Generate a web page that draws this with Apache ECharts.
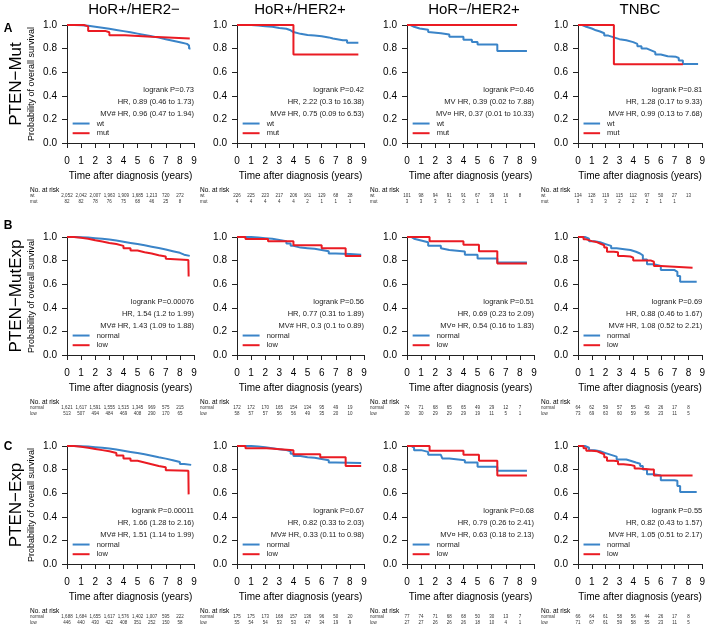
<!DOCTYPE html>
<html>
<head>
<meta charset="utf-8">
<script src="https://cdn.jsdelivr.net/npm/echarts@6/dist/echarts.min.js"></script>
<style>
  html, body { margin: 0; padding: 0; background: #fff; }
  #container { width: 708px; height: 625px; }
</style>
</head>
<body>
<div id="container"></div>
<script>
// column / row headings
var colTitles = ['HoR+/HER2\u2212', 'HoR+/HER2+', 'HoR\u2212/HER2+', 'TNBC'];
var rowLabels = ['PTEN\u2212Mut', 'PTEN\u2212MutExp', 'PTEN\u2212Exp'];
var rowLetters = ['A', 'B', 'C'];
var groupNames = [['wt', 'mut'], ['normal', 'low'], ['normal', 'low']];
var riskTimes = [0, 1, 2, 3, 4, 5, 6, 7, 8];

// Kaplan-Meier curves, [time in years, survival], one per column
var mutBlue = [
  [[0,1],[0.5,0.998],[1,0.993],[1.5,0.985],[2,0.977],[2.5,0.968],[3,0.958],[3.5,0.948],[4,0.938],[4.5,0.927],[5,0.916],[5.5,0.905],[6,0.893],[6.5,0.88],[7,0.867],[7.5,0.854],[8,0.84],[8.5,0.826],[8.65,0.8],[8.75,0.8]],
  [[0,1],[0.5,1],[1,0.995],[1.5,0.99],[2,0.985],[2.5,0.975],[3,0.968],[3.5,0.955],[3.8,0.94],[4,0.925],[4.5,0.915],[5,0.91],[5.5,0.905],[6,0.895],[6.5,0.885],[6.8,0.87],[7.5,0.87],[7.8,0.85],[8.6,0.85]],
  [[0,1],[0.25,0.985],[0.5,0.97],[0.9,0.96],[1.5,0.94],[1.6,0.93],[2.4,0.93],[2.5,0.92],[3,0.9],[4,0.875],[4.6,0.855],[5,0.835],[6.4,0.78],[8.5,0.78]],
  [[0,1],[0.3,0.985],[0.6,0.97],[1,0.955],[1.3,0.945],[1.6,0.93],[1.9,0.91],[2.2,0.895],[2.6,0.88],[3,0.87],[3.5,0.855],[4,0.84],[4.3,0.82],[4.6,0.8],[5,0.785],[5.3,0.77],[5.6,0.75],[6,0.735],[6.5,0.73],[7.1,0.72],[7.3,0.7],[7.6,0.67],[8.7,0.67]]
];
var mutRed = [
  [[0,1],[1.2,0.988],[1.5,0.95],[2.7,0.938],[3,0.913],[4.1,0.9],[6,0.886],[8.7,0.886]],
  [[0,1],[4,0.75],[8.6,0.75]],
  [[0,1],[7.8,1]],
  [[0,1],[2.6,0.667],[7.6,0.667]]
];
var mutExpBlue = [
  [[0,1],[0.5,0.998],[1,0.995],[1.5,0.99],[2,0.985],[2.5,0.978],[3,0.97],[3.5,0.96],[4,0.95],[4.5,0.94],[5,0.93],[5.5,0.918],[6,0.906],[6.5,0.894],[7,0.88],[7.5,0.866],[8,0.85],[8.3,0.84],[8.7,0.84]],
  [[0,1],[0.8,1],[1,0.995],[1.5,0.99],[2,0.985],[2.5,0.975],[3,0.965],[3.5,0.945],[3.8,0.925],[4,0.91],[4.5,0.905],[5,0.9],[5.5,0.89],[6,0.88],[6.5,0.86],[7,0.855],[8,0.85],[8.8,0.85]],
  [[0,1],[0.3,0.985],[0.5,0.97],[1,0.955],[1.5,0.925],[2.4,0.905],[2.5,0.89],[3,0.878],[4.1,0.85],[5,0.818],[6.4,0.783],[8.5,0.783]],
  [[0,1],[0.5,1],[0.6,0.985],[0.8,0.965],[1.2,0.955],[1.6,0.94],[2,0.925],[2.4,0.905],[2.8,0.895],[3.5,0.89],[3.8,0.875],[4.2,0.86],[4.5,0.845],[4.7,0.81],[5,0.77],[5.5,0.755],[6,0.72],[7,0.705],[7.2,0.67],[7.4,0.62],[8.6,0.62]]
];
var mutExpRed = [
  [[0,1],[0.5,0.993],[1,0.985],[1.5,0.972],[2,0.962],[2.5,0.95],[3,0.94],[3.5,0.925],[4,0.905],[4.5,0.885],[5,0.87],[5.5,0.86],[6,0.845],[6.5,0.835],[7,0.815],[7.1,0.805],[8.6,0.805],[8.62,0.665],[8.67,0.665]],
  [[0,1],[0.6,0.982],[2.2,0.965],[4,0.93],[6,0.905],[7.7,0.84],[8.8,0.84]],
  [[0,1],[1.6,0.965],[4,0.935],[5.1,0.88],[6.4,0.775],[8.5,0.775]],
  [[0,1],[0.4,0.98],[0.6,0.965],[1,0.955],[1.4,0.945],[1.6,0.93],[1.9,0.91],[2.1,0.875],[2.6,0.87],[2.9,0.84],[3.3,0.835],[3.8,0.825],[4,0.8],[5.3,0.79],[5.5,0.755],[6,0.74],[8.3,0.74]]
];
var expBlue = [
  [[0,1],[0.5,0.998],[1,0.995],[1.5,0.99],[2,0.985],[2.5,0.978],[3,0.97],[3.5,0.96],[4,0.95],[4.5,0.94],[5,0.93],[5.5,0.918],[6,0.905],[6.5,0.893],[7,0.88],[7.5,0.865],[8,0.848],[8.3,0.84],[8.8,0.84]],
  [[0,1],[0.8,1],[1,0.995],[1.5,0.99],[2,0.982],[2.5,0.972],[3,0.965],[3.5,0.955],[3.8,0.935],[4,0.915],[4.5,0.905],[5,0.9],[5.5,0.89],[6,0.88],[6.5,0.86],[7,0.855],[8.8,0.855]],
  [[0,1],[0.3,0.985],[0.5,0.965],[1,0.95],[1.5,0.925],[2.4,0.91],[2.5,0.895],[3,0.88],[4.1,0.86],[5,0.825],[6.4,0.79],[8.5,0.79]],
  [[0,1],[0.5,1],[0.6,0.985],[0.8,0.965],[1.2,0.955],[1.6,0.94],[2,0.925],[2.4,0.91],[2.8,0.885],[3.5,0.875],[3.8,0.86],[4.2,0.85],[4.5,0.83],[4.7,0.8],[5,0.76],[5.5,0.75],[6,0.71],[7,0.705],[7.2,0.66],[7.4,0.61],[8.6,0.61]]
];
var expRed = [
  [[0,1],[0.5,0.993],[1,0.985],[1.5,0.975],[2,0.965],[2.5,0.955],[3,0.94],[3.5,0.92],[4,0.895],[4.5,0.875],[5,0.86],[5.5,0.845],[6,0.83],[6.5,0.82],[7,0.795],[7.2,0.79],[8.6,0.79],[8.62,0.59],[8.67,0.59]],
  [[0,1],[0.6,0.98],[2.1,0.965],[4,0.93],[5.9,0.905],[7.7,0.83],[8.8,0.83]],
  [[0,1],[1.6,0.96],[4,0.925],[5.1,0.875],[6.4,0.75],[8.5,0.75]],
  [[0,1],[0.4,0.98],[0.6,0.96],[1,0.955],[1.4,0.945],[1.6,0.93],[1.9,0.905],[2.1,0.875],[2.6,0.87],[2.9,0.845],[3.3,0.84],[3.8,0.83],[4.1,0.81],[4.4,0.8],[5.3,0.8],[5.5,0.75],[8.3,0.75]]
];

// numbers at risk at years 0..8
var mutRiskBlue = [
  [2052,2042,2007,1963,1909,1685,1213,720,272],
  [226,225,223,217,206,161,129,68,28],
  [101,98,94,91,91,67,39,16,8],
  [134,128,119,115,112,97,50,27,13]
];
var mutRiskRed = [
  [82,82,78,76,75,68,46,25,8],
  [4,4,4,4,4,2,1,1,1],
  [3,3,3,3,3,1,1,1],
  [3,3,3,2,2,2,1,1]
];
var mutExpRiskBlue = [
  [1621,1617,1591,1555,1515,1345,969,575,215],
  [172,172,170,165,154,134,95,49,19],
  [74,71,68,65,65,49,29,12,7],
  [64,62,59,57,55,43,26,17,8]
];
var mutExpRiskRed = [
  [513,507,494,484,469,408,290,170,65],
  [58,57,57,56,56,49,35,20,10],
  [30,30,29,29,29,19,11,5,1],
  [73,69,63,60,59,56,23,11,5]
];
var expRiskBlue = [
  [1688,1684,1655,1617,1576,1402,1007,595,222],
  [175,175,173,168,157,136,96,50,20],
  [77,74,71,68,68,50,30,13,7],
  [66,64,61,58,56,44,26,17,8]
];
var expRiskRed = [
  [446,440,430,422,408,351,252,150,58],
  [55,54,54,53,53,47,34,19,9],
  [27,27,26,26,26,18,10,4,1],
  [71,67,61,59,58,55,23,11,5]
];

// test statistics printed in each panel
var mutStats = [
  ['logrank P=0.73', 'HR, 0.89 (0.46 to 1.73)', 'MV# HR, 0.96 (0.47 to 1.94)'],
  ['logrank P=0.42', 'HR, 2.22 (0.3 to 16.38)', 'MV# HR, 0.75 (0.09 to 6.53)'],
  ['logrank P=0.46', 'MV HR, 0.39 (0.02 to 7.88)', 'MV\u00a4 HR, 0.37 (0.01 to 10.33)'],
  ['logrank P=0.81', 'HR, 1.28 (0.17 to 9.33)', 'MV# HR, 0.99 (0.13 to 7.68)']
];
var mutExpStats = [
  ['logrank P=0.00076', 'HR, 1.54 (1.2 to 1.99)', 'MV# HR, 1.43 (1.09 to 1.88)'],
  ['logrank P=0.56', 'HR, 0.77 (0.31 to 1.89)', 'MV# HR, 0.3 (0.1 to 0.89)'],
  ['logrank P=0.51', 'HR, 0.69 (0.23 to 2.09)', 'MV\u00a4 HR, 0.54 (0.16 to 1.83)'],
  ['logrank P=0.69', 'HR, 0.88 (0.46 to 1.67)', 'MV# HR, 1.08 (0.52 to 2.21)']
];
var expStats = [
  ['logrank P=0.00011', 'HR, 1.66 (1.28 to 2.16)', 'MV# HR, 1.51 (1.14 to 1.99)'],
  ['logrank P=0.67', 'HR, 0.82 (0.33 to 2.03)', 'MV# HR, 0.33 (0.11 to 0.98)'],
  ['logrank P=0.68', 'HR, 0.79 (0.26 to 2.41)', 'MV\u00a4 HR, 0.63 (0.18 to 2.13)'],
  ['logrank P=0.55', 'HR, 0.82 (0.43 to 1.57)', 'MV# HR, 1.05 (0.51 to 2.17)']
];

var rows = [
  { blue: mutBlue, red: mutRed, riskBlue: mutRiskBlue, riskRed: mutRiskRed, stats: mutStats },
  { blue: mutExpBlue, red: mutExpRed, riskBlue: mutExpRiskBlue, riskRed: mutExpRiskRed, stats: mutExpStats },
  { blue: expBlue, red: expRed, riskBlue: expRiskBlue, riskRed: expRiskRed, stats: expStats }
];

// layout
var FONT = '"Liberation Sans", Arial, Helvetica, sans-serif';
var BLUE = '#3a84c8';
var RED = '#ea1b23';
var gridLeft = [67, 237, 407, 578];
var gridTop = [25, 237, 446];
var gridW = 127, gridH = 118;
var titleX = [134, 300, 474, 640];
var letterY = [29, 226, 447];

var dom = document.getElementById('container');
var myChart = echarts.init(dom, null, { renderer: 'canvas' });

var grids = [], xAxes = [], yAxes = [], series = [];
rows.forEach(function (row, r) {
  for (var c = 0; c < 4; c++) {
    var k = r * 4 + c;
    grids.push({ left: gridLeft[c], top: gridTop[r], width: gridW, height: gridH });
    xAxes.push({
      type: 'value', gridIndex: k, min: 0, max: 9, interval: 1,
      name: 'Time after diagnosis (years)', nameLocation: 'middle', nameGap: 28,
      nameTextStyle: { fontSize: 10, color: '#000', fontFamily: FONT },
      axisLine: { show: true, onZero: false, lineStyle: { color: '#222', width: 1 } },
      axisTick: { show: true, length: 5, lineStyle: { color: '#222' } },
      axisLabel: { fontSize: 10, color: '#000', margin: 13, fontFamily: FONT },
      splitLine: { show: false }
    });
    yAxes.push({
      type: 'value', gridIndex: k, min: 0, max: 1, interval: 0.2,
      name: c === 0 ? 'Probability of overall survival' : '',
      nameLocation: 'middle', nameGap: 31, nameRotate: 90,
      nameTextStyle: { fontSize: 9, color: '#000', fontFamily: FONT },
      axisLine: { show: true, lineStyle: { color: '#222', width: 1 } },
      axisTick: { show: true, length: 5, lineStyle: { color: '#222' } },
      axisLabel: { fontSize: 10, color: '#000', margin: 10, fontFamily: FONT,
        formatter: function (v) { return v.toFixed(1); } },
      splitLine: { show: false }
    });
    series.push({
      type: 'line', xAxisIndex: k, yAxisIndex: k, data: row.blue[c], step: 'end',
      symbol: 'none', lineStyle: { color: BLUE, width: 2 }, itemStyle: { color: BLUE }
    });
    series.push({
      type: 'line', xAxisIndex: k, yAxisIndex: k, data: row.red[c], step: 'end',
      symbol: 'none', lineStyle: { color: RED, width: 2 }, itemStyle: { color: RED }
    });
  }
});

myChart.setOption({
  animation: false,
  grid: grids,
  xAxis: xAxes,
  yAxis: yAxes,
  series: series
});

function fmt(n) {
  return String(n).replace(/\B(?=(\d{3})+(?!\d))/g, ',');
}
function txt(x, y, s, size, align, extra) {
  var el = {
    type: 'text', x: x, y: y, silent: true,
    style: { text: s, font: size + 'px ' + FONT, fill: '#000', align: align, verticalAlign: 'middle',
      textAlign: align, textVerticalAlign: 'middle' }
  };
  if (extra) { for (var key in extra) el[key] = extra[key]; }
  return el;
}

var els = [];
colTitles.forEach(function (t, c) {
  els.push(txt(titleX[c], 10, t, 15, 'center'));
});
rows.forEach(function (row, r) {
  var cy = gridTop[r] + gridH / 2;
  els.push(txt(8, letterY[r], rowLetters[r], 12, 'center',
    { style: { text: rowLetters[r], font: 'bold 12px ' + FONT, fill: '#000', align: 'center', verticalAlign: 'middle' } }));
  els.push({
    type: 'text', x: 16, y: cy, rotation: Math.PI / 2, silent: true,
    style: { text: rowLabels[r], font: '17px ' + FONT, fill: '#000', align: 'center', verticalAlign: 'middle' }
  });
  for (var c = 0; c < 4; c++) {
    var k = r * 4 + c;
    var P = function (t, v) { return myChart.convertToPixel({ gridIndex: k }, [t, v]); };
    // statistics text, right aligned at year 9
    var sy = [0.45, 0.35, 0.25];
    row.stats[c].forEach(function (s, i) {
      var p = P(9, sy[i]);
      els.push(txt(p[0], p[1], s, 7.5, 'right', { style: { text: s, font: '7.5px ' + FONT, fill: '#222', align: 'right', verticalAlign: 'middle' } }));
    });
    // legend
    [[BLUE, 0.165, groupNames[r][0]], [RED, 0.083, groupNames[r][1]]].forEach(function (lg) {
      var a = P(0.4, lg[1]), b = P(1.6, lg[1]), l = P(2.1, lg[1]);
      els.push({ type: 'line', silent: true, shape: { x1: a[0], y1: a[1], x2: b[0], y2: b[1] },
        style: { stroke: lg[0], lineWidth: 2 } });
      els.push({ type: 'text', x: l[0], y: l[1], silent: true,
        style: { text: lg[2], font: '7.5px ' + FONT, fill: '#222', align: 'left', verticalAlign: 'middle' } });
    });
    // risk table
    var base = gridTop[r] + gridH;
    var lx = gridLeft[c] - 37;
    els.push({ type: 'text', x: lx, y: base + 47, silent: true,
      style: { text: 'No. at risk', font: '6.5px ' + FONT, fill: '#000', align: 'left', verticalAlign: 'middle' } });
    [[row.riskBlue[c], groupNames[r][0], 53], [row.riskRed[c], groupNames[r][1], 59]].forEach(function (rk) {
      els.push({ type: 'text', x: lx, y: base + rk[2], silent: true,
        style: { text: rk[1], font: '4.5px ' + FONT, fill: '#333', align: 'left', verticalAlign: 'middle' } });
      rk[0].forEach(function (n, i) {
        var px = P(riskTimes[i], 0)[0];
        els.push({ type: 'text', x: px, y: base + rk[2], silent: true,
          style: { text: fmt(n), font: '4.5px ' + FONT, fill: '#333', align: 'center', verticalAlign: 'middle' } });
      });
    });
  }
});

myChart.setOption({ graphic: { elements: els } });

window.addEventListener('resize', function () {
  myChart.resize();
});
</script>
</body>
</html>
